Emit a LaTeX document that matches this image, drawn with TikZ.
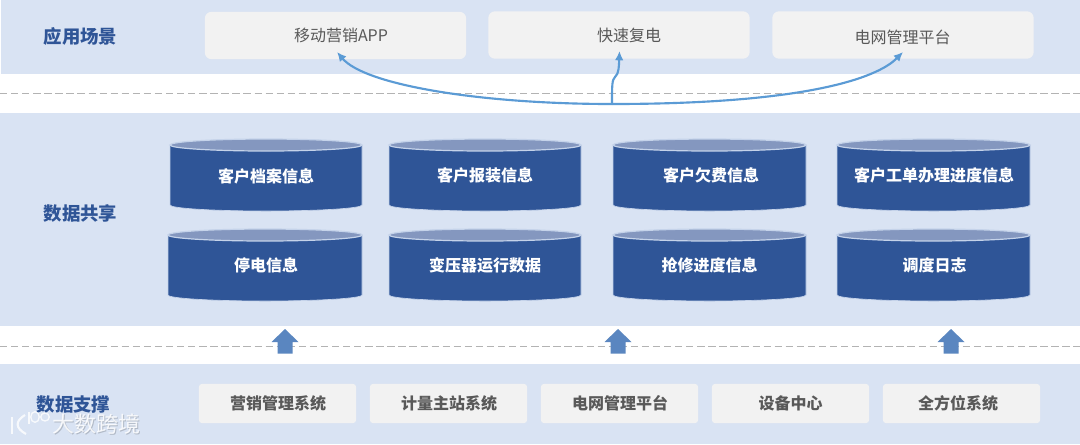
\documentclass[tikz,border=0pt]{standalone}
\usepackage{fontspec}
\setmainfont{Noto Sans CJK SC}
\usetikzlibrary{arrows.meta}
\definecolor{band}{HTML}{D9E3F3}
\definecolor{navy}{HTML}{2F5597}
\definecolor{lid}{HTML}{8497BF}
\definecolor{rim}{HTML}{C5D3EA}
\definecolor{boxfill}{HTML}{F2F2F2}
\definecolor{ink}{HTML}{595959}
\definecolor{flow}{HTML}{5B9BD5}
\definecolor{blockup}{HTML}{5A86C0}
\definecolor{dashgrey}{HTML}{B3B3B3}
\tikzset{
  x=0.75pt,y=-0.75pt,
  bandrect/.style={fill=band,draw=none},
  sep/.style={dashgrey,line width=0.75pt,dash pattern=on 5.5pt off 2.8pt},
  layer/.style={font=\fontsize{13.8pt}{16pt}\selectfont\bfseries,text=navy,inner sep=0pt},
  appbox/.style={fill=boxfill,draw=none,rounded corners=5pt,inner sep=0pt,minimum height=35.5pt,minimum width=196pt},
  applabel/.style={font=\fontsize{12pt}{14pt}\selectfont,text=ink,inner sep=0pt},
  srcbox/.style={fill=boxfill,draw=none,rounded corners=2.5pt,inner sep=0pt,minimum height=29.5pt,minimum width=118pt},
  srclabel/.style={font=\fontsize{12pt}{14pt}\selectfont\bfseries,text=ink,inner sep=0pt},
  cylname/.style={font=\fontsize{12pt}{14pt}\selectfont\bfseries,text=white,inner sep=0pt},
  flowline/.style={flow,line width=1.6pt,-{Latex[length=7pt,width=6.5pt]}},
  upblock/.style={fill=blockup,draw=none},
  wmstroke/.style={white,opacity=0.8,line width=1.6pt},
  wmring/.style={white,opacity=0.8,line width=1pt},
  wmtext/.style={font=\fontsize{16.5pt}{18pt}\selectfont,inner sep=0pt}
}
% #1 left, #2 right, #3 top of lid, #4 lowest point of the base
\newcommand{\drum}[4]{%
  \pgfmathsetmacro{\cx}{(#1+#2)/2}\pgfmathsetmacro{\rx}{(#2-#1)/2}%
  \fill[navy,draw=rim,line width=0.5pt] (#1,#3+6) -- (#1,#4-6) arc[start angle=180,end angle=360,x radius=\rx*0.75pt,y radius=4.5pt] -- (#2,#3+6) -- cycle;
  \fill[lid,draw=rim,line width=0.9pt] (\cx,#3+6) ellipse[x radius=\rx*0.75pt,y radius=4.5pt];
}
\begin{document}
\begin{tikzpicture}
\useasboundingbox (0,0) rectangle (1080,444);
\fill[white] (0,0) rectangle (1080,444);
\fill[bandrect] (1,0) rectangle (1080,74);
\fill[bandrect] (0,113) rectangle (1080,326);
\fill[bandrect] (0,364) rectangle (1080,444);
\coordinate (d1a) at (0,93); \coordinate (d1b) at (1080,93);
\coordinate (d2a) at (0,346); \coordinate (d2b) at (1080,346);
\draw[sep] (d1a) -- (d1b);
\draw[sep] (d2a) -- (d2b);

\node[layer] (lapp) at (80.5,36) {应用场景};
\node[layer] (lshare) at (80.5,213) {数据共享};
\node[layer] (lsup) at (73.5,405) {数据支撑};

\node[appbox] (app) at (335.5,35.5) {};
\node[appbox] (fast) at (619,35) {};
\node[appbox] (grid) at (903,35) {};
\node[applabel] (tapp) at (341,35) {移动营销APP};
\node[applabel] (tfast) at (629,35) {快速复电};
\node[applabel] (tgrid) at (902.5,37) {电网管理平台};

\coordinate (hub) at (612,104);
\coordinate (tipA) at (337,52);
\coordinate (tipB) at (619.5,51);
\coordinate (tipC) at (903,52);
\draw[flowline] (hub) .. controls (480,104) and (365,85) .. (tipA);
\draw[flowline] (hub) .. controls (850,104) and (890,65) .. (tipC);
\draw[flowline] (hub) .. controls (612,85) and (612,80) .. (615,77) .. controls (619,74) and (619,65) .. (tipB);

\drum{170}{362}{139}{211}
\drum{389}{581}{139}{211}
\drum{613}{806}{139}{211}
\drum{837}{1030}{139}{211}
\drum{168}{362}{229}{301}
\drum{389}{581}{229}{301}
\drum{613}{806}{229}{301}
\drum{837}{1030}{229}{301}
\node[cylname] (c1) at (266,176.5) {客户档案信息};
\node[cylname] (c2) at (485,175.5) {客户报装信息};
\node[cylname] (c3) at (711,175.5) {客户欠费信息};
\node[cylname] (c4) at (934,175.5) {客户工单办理进度信息};
\node[cylname] (c5) at (266,265.5) {停电信息};
\node[cylname] (c6) at (485,265.5) {变压器运行数据};
\node[cylname] (c7) at (709.5,265.5) {抢修进度信息};
\node[cylname] (c8) at (934.5,265.5) {调度日志};

\foreach \ax in {285,618,951}{
  \fill[upblock] (\ax-7.5,353.5) -- (\ax+7.5,353.5) -- (\ax+7.5,342) -- (\ax+13.5,342) -- (\ax,329) -- (\ax-13.5,342) -- (\ax-7.5,342) -- cycle;
}

\node[srcbox] (s1) at (277.5,403.5) {};
\node[srcbox] (s2) at (448.5,403.5) {};
\node[srcbox] (s3) at (619.5,403.5) {};
\node[srcbox] (s4) at (790.5,403.5) {};
\node[srcbox] (s5) at (961.5,403.5) {};
\node[srclabel] (ts1) at (278,403.5) {营销管理系统};
\node[srclabel] (ts2) at (449,403.5) {计量主站系统};
\node[srclabel] (ts3) at (620,403.5) {电网管理平台};
\node[srclabel] (ts4) at (790.5,403.5) {设备中心};
\node[srclabel] (ts5) at (958,403.5) {全方位系统};

% watermark
\draw[wmstroke] (12,417) -- (12,434);
\draw[wmstroke] (25,415) .. controls (15,421) and (15,428) .. (26,434);
\draw[wmstroke] (29,412) -- (29,424);
\draw[wmring] (35,417) ellipse[x radius=3.2pt,y radius=4pt];
\draw[wmring] (45,417) ellipse[x radius=3.2pt,y radius=3pt];
\node[wmtext,text=black,opacity=0.18] (wmshade) at (97,425) {大数跨境};
\node[wmtext,text=white,opacity=0.85] (wm) at (96,424) {大数跨境};
\end{tikzpicture}
\end{document}
